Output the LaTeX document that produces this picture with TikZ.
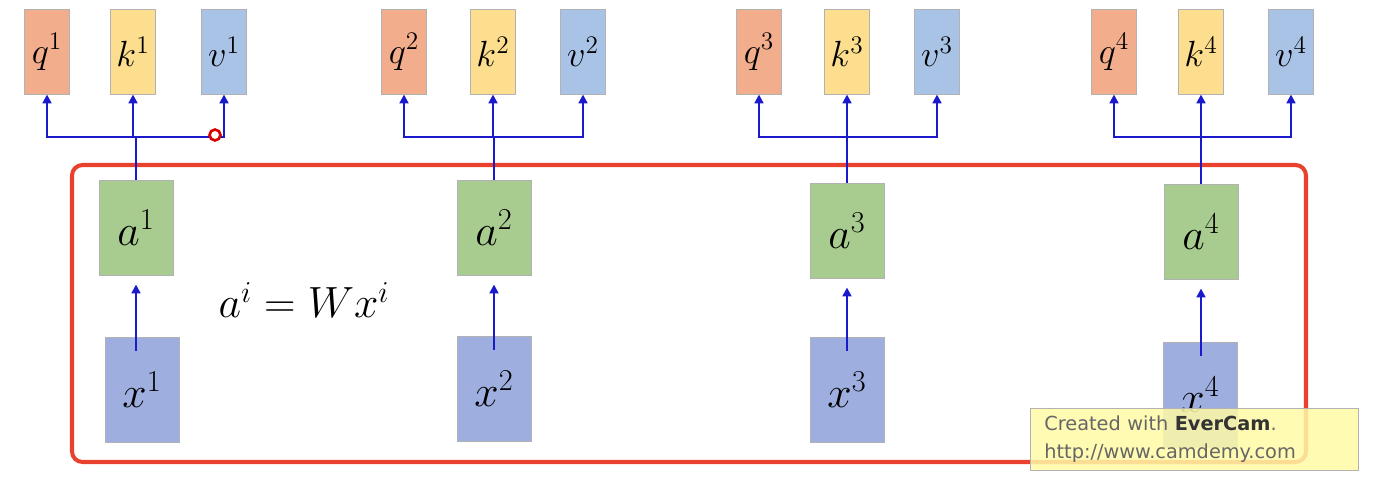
\documentclass[tikz,border=0pt]{standalone}
\usepackage{fontspec}
\newfontfamily\camfont{DejaVu Sans}
\usetikzlibrary{arrows.meta}
\definecolor{qcol}{HTML}{F2AE8C}
\definecolor{kcol}{HTML}{FCDE8E}
\definecolor{vcol}{HTML}{A8C3E6}
\definecolor{acol}{HTML}{A8CC8F}
\definecolor{xcol}{HTML}{9DAEDF}
\definecolor{arrcol}{HTML}{1A1ACC}
\definecolor{framecol}{HTML}{E8412E}
\tikzset{
  vecbox/.style={draw=black!30, minimum width=26pt, minimum height=48pt, inner sep=0pt,
                 font=\fontsize{22}{24}\selectfont},
  inbox/.style={draw=black!30, minimum width=42pt, minimum height=56pt, inner sep=0pt,
                font=\fontsize{24}{26}\selectfont},
  flow/.style={arrcol, line width=1.6pt, -{Triangle[length=5pt,width=5pt]}},
}
\begin{document}
\begin{tikzpicture}[x=0.02cm,y=-0.02cm]
  \useasboundingbox (0,0) rectangle (1374,482);
  % frame around the inputs
  \draw[framecol, line width=2.3pt, rounded corners=6pt] (72,165) rectangle (1306,462);

  % columns: index / q / k / v / a-x position
  \foreach \i/\qx/\kx/\vx/\ax/\xx/\ay/\xy in
      {1/47/133/224/136/142/228/390,
       2/404/493/583/494/494/228/389,
       3/759/847/937/847/847/231/390,
       4/1114/1201/1291/1201/1200/232/395}{
    \node[vecbox, fill=qcol] (q\i) at (\qx,52) {$q^{\i}$};
    \node[vecbox, fill=kcol] (k\i) at (\kx,52) {$k^{\i}$};
    \node[vecbox, fill=vcol] (v\i) at (\vx,52) {$v^{\i}$};
    \node[inbox, minimum height=54pt, fill=acol] (a\i) at (\ax,\ay) {$a^{\i}$};
    \node[inbox, minimum height=60pt, fill=xcol] (x\i) at (\xx,\xy) {$x^{\i}$};
    \coordinate (t\i) at (\ax,137);
    \draw[arrcol, line width=1.6pt] (a\i.north) -- (t\i);
    \draw[flow] (t\i) -| (q\i.south);
    \draw[flow] (t\i) -| (k\i.south);
    \draw[flow] (t\i) -| (v\i.south);
    \draw[flow] ([yshift=-8pt]x\i.north -| a\i.south) -- ([yshift=-5pt]a\i.south);
  }

  % cursor mark
  \node[circle, draw=red!85!black, fill=white, line width=1.5pt, inner sep=2.2pt] (cur) at (215,135) {};

  \node[font=\fontsize{24}{26}\selectfont] (eq) at (304,300) {$a^i = Wx^i$};

  % recorder watermark
  \node[draw=black!30, fill=yellow!35, fill opacity=0.85, text opacity=1, anchor=north west,
        text width=300*0.02cm, minimum height=62*0.02cm, align=left, text=black!60,
        font=\camfont\fontsize{11}{16}\selectfont, inner xsep=8pt] (cam) at (1030,408)
        {Created with \textbf{\color{black!80}EverCam}.\\http://www.camdemy.com};
\end{tikzpicture}
\end{document}
